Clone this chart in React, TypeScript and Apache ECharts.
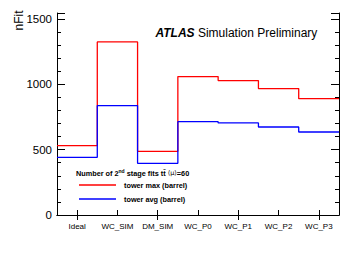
import React, { useEffect, useRef } from "react";
import * as echarts from "echarts";

const categories = ["Ideal", "WC_SIM", "DM_SIM", "WC_P0", "WC_P1", "WC_P2", "WC_P3"];
const towerMax = [531, 1324, 487, 1059, 1028, 967, 890];
const towerAvg = [441, 837, 395, 714, 704, 673, 635];
const seriesNames = ["tower max (barrel)", "tower avg (barrel)"];
const yTicks = [0, 500, 1000, 1500];
const yMax = 1545;

const FONT = "'Liberation Sans', Arial, Helvetica, sans-serif";

function stepData(vals: number[]) {
  const pts = vals.map((v, i) => [i, v]);
  pts.push([vals.length, vals[vals.length - 1]]);
  return pts;
}

export default function App() {
  const ref = useRef<HTMLDivElement>(null);
  useEffect(() => {
    document.body.style.margin = "0";
    const chart = echarts.init(ref.current!, null, { renderer: "svg" });
    const axisLine = { show: true, lineStyle: { color: "#000", width: 1 } };
    chart.setOption({
      animation: false,
      backgroundColor: "#fff",
      grid: { left: 57, right: 17, top: 13, bottom: 41 },
      xAxis: [
        {
          type: "category",
          data: categories,
          position: "bottom",
          boundaryGap: true,
          axisLine,
          axisTick: { show: true, inside: true, alignWithLabel: true, length: 5, lineStyle: { color: "#000" } },
          axisLabel: { fontFamily: FONT, fontSize: 8, color: "#000", margin: 7, interval: 0 },
          splitLine: { show: false },
        },
        {
          type: "category",
          data: categories,
          position: "top",
          boundaryGap: true,
          axisLine,
          axisTick: { show: true, inside: true, alignWithLabel: true, length: 5, lineStyle: { color: "#000" } },
          axisLabel: { show: false },
          splitLine: { show: false },
        },
        { type: "value", min: 0, max: categories.length, show: false, position: "bottom" },
      ],
      yAxis: [
        {
          type: "value",
          position: "left",
          min: 0,
          max: yMax,
          interval: 500,
          axisLine,
          axisTick: { show: true, inside: true, length: 8, lineStyle: { color: "#000" } },
          axisLabel: {
            fontFamily: FONT,
            fontSize: 11.5,
            color: "#000",
            margin: 5,
            formatter: (v: number) => (yTicks.includes(v) ? String(v) : ""),
          },
          splitLine: { show: false },
        },
        {
          type: "value",
          position: "left",
          min: 0,
          max: yMax,
          interval: 100,
          axisLine: { show: false },
          axisTick: { show: true, inside: true, length: 4, lineStyle: { color: "#000" } },
          axisLabel: { show: false },
          splitLine: { show: false },
        },
        {
          type: "value",
          position: "right",
          min: 0,
          max: yMax,
          interval: 500,
          axisLine,
          axisTick: { show: true, inside: true, length: 8, lineStyle: { color: "#000" } },
          axisLabel: { show: false },
          splitLine: { show: false },
        },
        {
          type: "value",
          position: "right",
          min: 0,
          max: yMax,
          interval: 100,
          axisLine: { show: false },
          axisTick: { show: true, inside: true, length: 4, lineStyle: { color: "#000" } },
          axisLabel: { show: false },
          splitLine: { show: false },
        },
      ],
      legend: {
        data: seriesNames,
        orient: "vertical",
        left: 79,
        top: 178,
        icon: "rect",
        itemWidth: 37,
        itemHeight: 1.5,
        itemGap: 0,
        padding: 0,
        textStyle: {
          fontFamily: FONT,
          fontSize: 7.3,
          fontWeight: "bold",
          color: "#000",
          lineHeight: 14,
          padding: [0, 0, 0, 3],
        },
      },
      series: [
        {
          name: seriesNames[0],
          type: "line",
          xAxisIndex: 2,
          yAxisIndex: 0,
          step: "end",
          symbol: "none",
          data: stepData(towerMax),
          lineStyle: { color: "#ff0000", width: 1.3 },
          itemStyle: { color: "#ff0000" },
          z: 3,
        },
        {
          name: seriesNames[1],
          type: "line",
          xAxisIndex: 2,
          yAxisIndex: 0,
          step: "end",
          symbol: "none",
          data: stepData(towerAvg),
          lineStyle: { color: "#0000ff", width: 1.3 },
          itemStyle: { color: "#0000ff" },
          z: 3,
        },
      ],
      graphic: [
        {
          type: "text",
          x: 155.5,
          y: 33,
          style: {
            text: "{a|ATLAS}{b| Simulation Preliminary}",
            verticalAlign: "middle",
            rich: {
              a: { fontFamily: FONT, fontSize: 12, fontWeight: "bold", fontStyle: "italic", fill: "#000" },
              b: { fontFamily: FONT, fontSize: 12, fill: "#000" },
            },
          },
        },
        {
          type: "text",
          x: 18.5,
          y: 20.5,
          rotation: Math.PI / 2,
          style: {
            text: "nFit",
            fontFamily: FONT,
            fontSize: 12,
            fill: "#000",
            align: "center",
            verticalAlign: "middle",
          },
        },
        {
          type: "text",
          x: 76,
          y: 173,
          style: {
            text: "{b|Number of 2}{s|nd}{b| stage fits t}{b|t\u0304 }{n|\u27E8\u03BC\u27E9}{b|=60}",
            verticalAlign: "middle",
            rich: {
              b: { fontFamily: FONT, fontSize: 7.3, fontWeight: "bold", fill: "#000" },
              s: { fontFamily: FONT, fontSize: 5, fontWeight: "bold", fill: "#000", verticalAlign: "top", padding: [0, 0, 4, 0] },
              n: { fontFamily: "'DejaVu Sans', sans-serif", fontSize: 6.5, fill: "#000" },
            },
          },
        },
      ],
    });
    return () => chart.dispose();
  }, []);
  return <div ref={ref} style={{ width: 356, height: 256 }} />;
}
